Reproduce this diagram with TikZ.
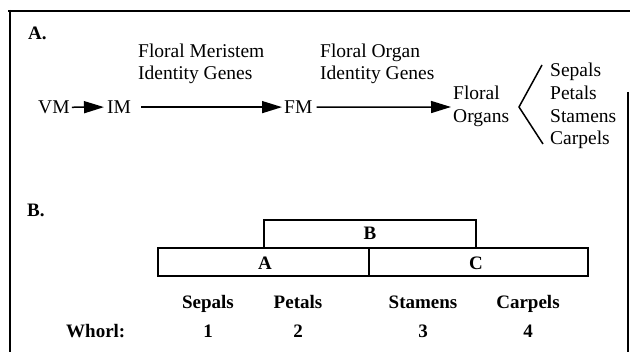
\documentclass[tikz,border=0pt]{standalone}
\usepackage{fontspec}
\setmainfont{Liberation Serif}
\usetikzlibrary{arrows.meta}
\begin{document}
\begin{tikzpicture}[x=1pt,y=-1pt,
  txt/.style={inner sep=0pt,font=\fontsize{19.5}{22.7}\selectfont,align=left},
  btxt/.style={inner sep=0pt,font=\fontsize{19}{21}\selectfont\bfseries},
  arr/.style={line width=1.5pt,-{Triangle[length=20pt,width=12pt]}},
  boxline/.style={line width=1.6pt},
  frameline/.style={line width=2.6pt}]
\useasboundingbox (0,0) rectangle (630,352);
% frame
\draw[frameline] (8,11) -- (630,11);
\draw[line width=2pt] (10,10) -- (10,356);
\draw[line width=1.6pt] (628,92) -- (628,356);
% Part A
\node[btxt,anchor=base west] (labA) at (28,40) {A.};
\node[txt,anchor=base west] (fmig) at (138,80) {Floral Meristem\\Identity Genes};
\node[txt,anchor=base west] (foig) at (320,80) {Floral Organ\\Identity Genes};
\node[txt,anchor=base west] (VM) at (38,113.5) {VM};
\node[txt,anchor=base west] (IM) at (107,113.5) {IM};
\node[txt,anchor=base west] (FM) at (284,113.5) {FM};
\node[txt,anchor=base west] (FO) at (453,122.5) {Floral\\Organs};
\node[txt,anchor=base west] (list) at (550,145) {Sepals\\Petals\\Stamens\\Carpels};
\coordinate (FOin) at (451,107);
\draw[arr] ([xshift=2pt]VM.east) -- ([xshift=-3pt]IM.west);
\draw[arr] ([xshift=10pt]IM.east) -- ([xshift=-2pt]FM.west);
\draw[arr] ([xshift=4pt]FM.east) -- (FOin);
\coordinate (brT) at (542,65);
\coordinate (brV) at (519,107);
\coordinate (brB) at (543,144);
\draw[line width=1.5pt] (brT) -- (brV) -- (brB);
% Part B
\node[btxt,anchor=base west] (labB) at (27,217) {B.};
\coordinate (Bnw) at (264,220);
\coordinate (Bne) at (476,220);
\coordinate (Bsw) at (264,248);
\coordinate (Bse) at (476,248);
\draw[boxline] (Bsw) -- (Bnw) -- (Bne) -- (Bse);
\coordinate (ACnw) at (158,248);
\coordinate (ACse) at (588,276);
\draw[boxline] (ACnw) rectangle (ACse);
\coordinate (divT) at (369,248);
\coordinate (divB) at (369,276);
\draw[boxline] (divT) -- (divB);
\node[btxt,anchor=base] (gB) at (370,240) {B};
\node[btxt,anchor=base] (gA) at (265,270) {A};
\node[btxt,anchor=base] (gC) at (476,270) {C};
\node[btxt,anchor=base] (s1) at (208,309) {Sepals};
\node[btxt,anchor=base] (s2) at (298,309) {Petals};
\node[btxt,anchor=base] (s3) at (423,309) {Stamens};
\node[btxt,anchor=base] (s4) at (528,309) {Carpels};
\node[btxt,anchor=base west] (wh) at (66,338) {Whorl:};
\node[btxt,anchor=base] (n1) at (208,338) {1};
\node[btxt,anchor=base] (n2) at (298,338) {2};
\node[btxt,anchor=base] (n3) at (423,338) {3};
\node[btxt,anchor=base] (n4) at (528,338) {4};
\end{tikzpicture}
\end{document}
